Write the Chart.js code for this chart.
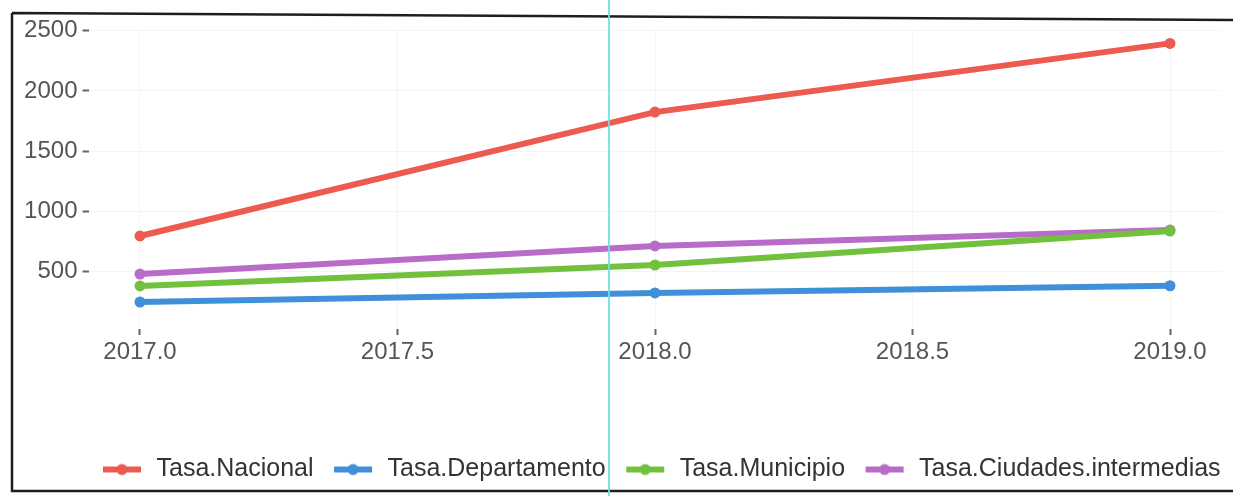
<!DOCTYPE html>
<html>
<head>
<meta charset="utf-8">
<script src="https://cdn.jsdelivr.net/npm/chart.js@4.4.1/dist/chart.umd.min.js"></script>
<style>
  html, body { margin: 0; padding: 0; background: #fff; }
  #wrap { position: relative; width: 1233px; height: 496px; }
</style>
</head>
<body>
<div id="wrap"><canvas id="tasasChart" width="1233" height="496"></canvas></div>
<script>
// years on the x axis
const years = [2017, 2018, 2019];

// series values
const tasaNacional = [797, 1825, 2395];
const tasaDepartamento = [249, 324, 384];
const tasaMunicipio = [382, 556, 838];
const tasaCiudades = [481, 714, 846];

const seriesNames = ["Tasa.Nacional", "Tasa.Departamento", "Tasa.Municipio", "Tasa.Ciudades.intermedias"];
const seriesColors = ["#ec5a50", "#3f90d8", "#72c13e", "#b96bc8"];

// tick labels
const xTicks = [2017.0, 2017.5, 2018.0, 2018.5, 2019.0];
const yTicks = [500, 1000, 1500, 2000, 2500];

const FONT = "'Liberation Sans', Arial, sans-serif";

// legend key: a short line with a dot in the middle, like ggplot
function makeKey(color) {
  const c = document.createElement("canvas");
  c.width = 40;
  c.height = 14;
  const k = c.getContext("2d");
  k.strokeStyle = color;
  k.lineWidth = 6;
  k.beginPath();
  k.moveTo(1, 7);
  k.lineTo(39, 7);
  k.stroke();
  k.fillStyle = color;
  k.beginPath();
  k.arc(20, 7, 5.5, 0, Math.PI * 2);
  k.fill();
  return c;
}
const keyImages = seriesColors.map(makeKey);

function toPoints(values) {
  return values.map((v, i) => ({ x: years[i], y: v }));
}

const allSeries = [tasaNacional, tasaDepartamento, tasaMunicipio, tasaCiudades];

// scan frame + the cyan scanner streak
const framePlugin = {
  id: "frame",
  afterDraw(chart) {
    const ctx = chart.ctx;
    ctx.save();
    ctx.strokeStyle = "#1e1e1e";
    ctx.lineWidth = 2.5;
    ctx.beginPath();
    ctx.moveTo(12, 13);
    ctx.lineTo(1233, 20);
    ctx.moveTo(12, 13);
    ctx.lineTo(12, 491);
    ctx.lineTo(1233, 491);
    ctx.stroke();
    ctx.strokeStyle = "rgba(110, 225, 225, 0.9)";
    ctx.lineWidth = 2;
    ctx.beginPath();
    ctx.moveTo(609, 0);
    ctx.lineTo(609, 496);
    ctx.stroke();
    ctx.restore();
  }
};

// keep the legend on one row and put it where the reference has it
const legendShift = {
  id: "legendShift",
  beforeInit(chart) {
    const fit = chart.legend.fit;
    chart.legend.fit = function () {
      this.maxWidth = 1400;
      fit.call(this);
      this.width = 1233;
      this.height = 59.5;
    };
  },
  afterLayout(chart) {
    chart.legend.left = 82.5;
    chart.legend.right = 1400;
    chart.legend.top += 3;
  }
};

const ctx = document.getElementById("tasasChart").getContext("2d");

new Chart(ctx, {
  type: "line",
  data: {
    datasets: allSeries.map((vals, i) => ({
      label: seriesNames[i],
      data: toPoints(vals),
      borderColor: seriesColors[i],
      backgroundColor: seriesColors[i],
      pointBackgroundColor: seriesColors[i],
      pointBorderWidth: 0,
      pointRadius: 5.5,
      borderWidth: 6,
      tension: 0,
      fill: false
    }))
  },
  options: {
    responsive: false,
    animation: false,
    layout: {
      padding: { left: 0, right: 11.5, top: 30.5, bottom: 0 }
    },
    scales: {
      x: {
        type: "linear",
        min: 2016.9,
        max: 2019.1,
        border: { display: false },
        grid: {
          color: "#f4f4f4",
          tickColor: "#666",
          tickLength: 6,
          tickWidth: 2
        },
        ticks: {
          color: "#555",
          padding: 3,
          font: { family: FONT, size: 24 },
          callback: v => v.toFixed(1)
        },
        afterBuildTicks: scale => { scale.ticks = xTicks.map(v => ({ value: v })); },
        afterFit: scale => { scale.height = 107.5; }
      },
      y: {
        min: 25,
        max: 2502,
        border: { display: false },
        grid: {
          color: "#f4f4f4",
          tickColor: "#666",
          tickLength: 6,
          tickWidth: 2
        },
        ticks: {
          color: "#555",
          padding: 5,
          font: { family: FONT, size: 24 },
          callback: v => String(v)
        },
        afterBuildTicks: scale => { scale.ticks = yTicks.map(v => ({ value: v })); },
        afterFit: scale => { scale.width = 88.5; }
      }
    },
    plugins: {
      tooltip: { enabled: false },
      legend: {
        position: "bottom",
        align: "start",
        labels: {
          usePointStyle: true,
          pointStyleWidth: 44,
          padding: 17.5,
          color: "#333",
          font: { family: FONT, size: 25 },
          generateLabels: chart => chart.data.datasets.map((ds, i) => ({
            text: ds.label,
            pointStyle: keyImages[i],
            fillStyle: ds.borderColor,
            strokeStyle: "transparent",
            lineWidth: 0,
            fontColor: "#333",
            hidden: false,
            datasetIndex: i
          }))
        }
      }
    }
  },
  plugins: [legendShift, framePlugin]
});
</script>
</body>
</html>
